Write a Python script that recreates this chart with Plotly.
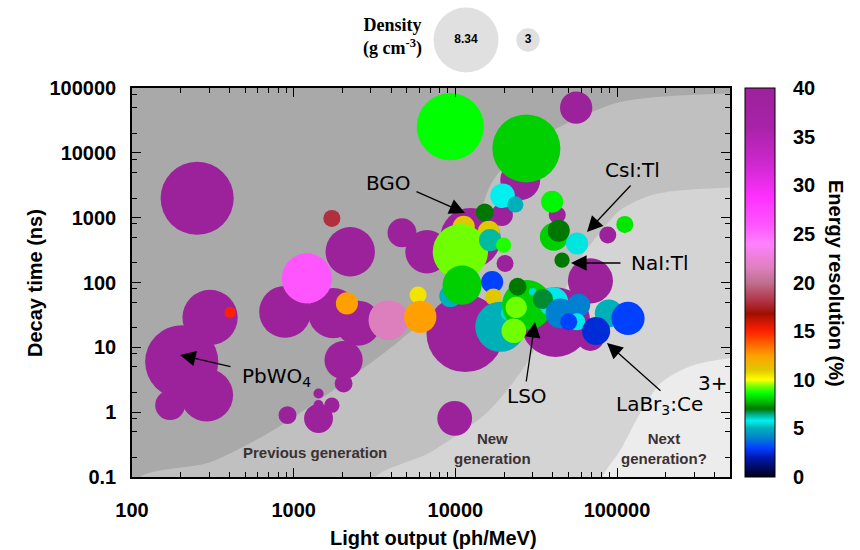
import plotly.graph_objects as go

# ---------------- data ----------------
light_output = [253, 1723, 2239, 4677, 6680, 885, 1757, 2506, 2036, 2036,
                1425, 1425, 1723, 1425, 916, 1207, 2135, 304, 404, 203,
                290, 172, 11500, 3860, 5880, 6070, 9910, 12400, 19400, 25200,
                20300, 11270, 16100, 10740, 16400, 19900, 15200, 9310, 11000, 16900,
                17200, 27500, 9310, 55900, 19600, 23500, 42700, 39700, 40700, 43600,
                56600, 87700, 111700, 45700, 68500, 41600, 68500, 19000, 21300, 27800,
                24300, 23800, 23000, 30100, 40400, 34800, 44700, 58000, 56600, 50300,
                89000, 117000, 74300]
decay_time = [1990, 975, 298, 585, 298, 35.3, 33.7, 23.6, 6.35, 2.77,
              1.94, 1.28, 1.28, 0.80, 0.90, 116, 47.6, 28.9, 34.6, 5.97,
              1.83, 1.28, 16.4, 26.3, 64, 29.6, 0.80, 484, 1100, 3800,
              197, 724, 606, 298, 451, 378, 1208, 61.7, 91, 102,
              60, 11700, 25300, 49700, 2180, 1600, 1100, 1760, 507, 630,
              400, 539, 788, 222, 106, 24.5, 14.5, 20.8, 33.7, 44.8,
              85.9, 41.3, 18.0, 71.8, 49.9, 55.4, 33.3, 44.8, 24.7, 24.7,
              33.3, 27.9, 17.8]
density = [8.6, 2.0, 5.8, 3.4, 5.1, 6.1, 5.9, 5.3, 4.5, 2.1,
           1.2, 1.2, 1.8, 3.4, 2.1, 5.9, 2.6, 6.5, 1.3, 8.6,
           6.2, 3.5, 9.1, 4.7, 2.0, 3.8, 4.1, 7.1, 2.6, 4.7,
           2.0, 2.6, 2.6, 6.5, 2.6, 1.8, 2.1, 2.6, 4.6, 2.6,
           2.0, 8.0, 7.9, 3.8, 2.9, 1.9, 2.0, 2.6, 3.3, 2.6,
           2.6, 2.0, 2.0, 1.8, 5.3, 8.2, 3.3, 5.9, 1.8, 5.9,
           2.1, 2.5, 2.9, 0.9, 3.5, 2.4, 3.5, 2.7, 2.0, 2.0,
           3.3, 3.9, 3.3]
energy_res = [40, 18, 40, 40, 40, 40, 40, 40, 40, 40,
              40, 40, 40, 40, 40, 26, 12.5, 40, 15, 40,
              40, 40, 40, 21.5, 10.5, 12.5, 40, 40, 40, 40,
              40, 11, 11, 9.3, 6.3, 8.8, 7, 5, 8, 3,
              11, 8, 8.6, 40, 5.8, 5, 40, 8.5, 8, 7,
              5.9, 40, 8.3, 7, 40, 40, 40, 5, 6, 8,
              7, 9.3, 9.3, 6, 5.7, 6.8, 4, 4, 5.7, 3,
              5, 3, 2.5]

legend_density = [8.34, 3]
legend_labels = ["8.34", "3"]

x_tickvals = [100, 1000, 10000, 100000]
x_ticktext = ["100", "1000", "10000", "100000"]
y_tickvals = [0.1, 1, 10, 100, 1000, 10000, 100000]
y_ticktext = ["0.1", "1", "10", "100", "1000", "10000", "100000"]
cbar_tickvals = [0, 5, 10, 15, 20, 25, 30, 35, 40]

# background "generation" zones (boundary curves, data units)
b1_x = [104, 304, 747, 2142, 4560, 8670, 12400, 16500, 25200, 40500, 105000, 582000]
b1_y = [0.086, 0.169, 0.527, 3.12, 12.9, 53.5, 316, 3190, 11050, 22500, 60900, 83700]
b2_x = [2980, 7000, 15800, 27100, 41600, 59400, 79000, 105000, 173000, 582000]
b2_y = [0.083, 0.241, 1.0, 5.31, 37.5, 238, 600, 1310, 2310, 2970]
b3_x = [79100, 105000, 140000, 186000, 285000, 582000]
b3_y = [0.083, 0.26, 1.0, 2.8, 5.13, 7.06]

# ---------------- style ----------------
SIZE_PER_DENSITY = 8.5
LEGEND_SIZE_PER_DENSITY = 7.8
W, H = 860, 550
ML, MR, MT, MB = 132, 130, 5, 73
PW, PH = W - ML - MR, H - MT - MB
PLOT_TOP = 88
CBAR_LEFT, CBAR_W = 745, 30
CMIN, CMAX = 0, 40


def px(xp):
    return (xp - ML) / PW


def py(yp):
    return (H - MB - yp) / PH


colorscale = [
    [0.0, "#000018"], [0.05, "#0018b0"], [0.075, "#0040ff"], [0.1, "#0080d0"],
    [0.125, "#00b0b8"], [0.145, "#00f0f0"], [0.16, "#00b090"], [0.175, "#007800"],
    [0.2, "#00d000"], [0.215, "#00ff00"], [0.235, "#80ff00"], [0.25, "#ffff00"],
    [0.275, "#e0c800"], [0.3125, "#ffa000"], [0.375, "#ff2000"], [0.42, "#a01000"],
    [0.45, "#b03040"], [0.5, "#c07090"], [0.54, "#e080c0"], [0.6, "#ff80ff"],
    [0.65, "#ff55ff"], [0.72, "#ff30ff"], [0.8, "#d028d0"], [0.9, "#a822a8"],
    [1.0, "#9c229c"],
]

fig = go.Figure()

# lightest background zone: the whole plot area
fig.add_trace(go.Scatter(x=[1, 1e7, 1e7, 1, 1], y=[1e-3, 1e-3, 1e7, 1e7, 1e-3],
                         mode="lines", fill="toself", fillcolor="#ececec",
                         line=dict(width=0), hoverinfo="skip", showlegend=False))


def zone(bx, by, color):
    xs = [1, bx[0]] + bx + [1e7, 1e7, 1]
    ys = [1e-3, 1e-3] + by + [by[-1], 1e7, 1e7]
    fig.add_trace(go.Scatter(x=xs, y=ys, mode="lines", fill="toself",
                             fillcolor=color, line=dict(width=0, shape="spline", smoothing=0.8),
                             hoverinfo="skip", showlegend=False))


zone(b3_x, b3_y, "#d4d4d4")
zone(b2_x, b2_y, "#c0c0c0")
zone(b1_x, b1_y, "#a9a9a9")

fig.add_trace(go.Scatter(
    x=light_output, y=decay_time, mode="markers", showlegend=False,
    marker=dict(size=[d * SIZE_PER_DENSITY for d in density], sizemode="diameter",
                color=energy_res, colorscale=colorscale, cmin=CMIN, cmax=CMAX,
                opacity=1, line=dict(width=0),
                showscale=True,
                colorbar=dict(x=px(CBAR_LEFT), xanchor="left", xpad=0, y=0, yanchor="bottom",
                              len=(H - MB - PLOT_TOP) / PH, lenmode="fraction", ypad=0,
                              thickness=CBAR_W, outlinewidth=1, outlinecolor="black",
                              tickvals=cbar_tickvals, ticks="outside", ticklen=14,
                              tickcolor="rgba(0,0,0,0)",
                              tickfont=dict(family="Liberation Sans", size=20, weight="bold",
                                            color="black"))),
))

# density legend
fig.add_trace(go.Scatter(
    x=[px(466), px(528)], y=[0.5, 0.5], xaxis="x2", yaxis="y2",
    mode="markers+text", text=legend_labels, textposition="middle center",
    textfont=dict(family="Liberation Sans", size=12, weight="bold", color="black"),
    marker=dict(size=[d * LEGEND_SIZE_PER_DENSITY for d in legend_density],
                sizemode="diameter", color="#d3d3d3", line=dict(width=0)),
    showlegend=False, hoverinfo="skip", cliponaxis=False))

minor_x = [m * 10 ** e for e in range(2, 6) for m in range(2, 10)]
minor_y = [m * 10 ** e for e in range(-1, 5) for m in (2, 5, 8)]

axis_common = dict(type="log", showgrid=False, zeroline=False, showline=True,
                   linecolor="black", linewidth=1.5, mirror="ticks", ticks="inside",
                   ticklen=9, tickwidth=1.2, tickcolor="black",
                   tickfont=dict(family="Liberation Sans", size=20, weight="bold",
                                 color="black"))

fig.update_layout(
    width=W, height=H, margin=dict(l=ML, r=MR, t=MT, b=MB, autoexpand=False),
    paper_bgcolor="white", plot_bgcolor="rgba(0,0,0,0)",
    xaxis=dict(range=[2, 5.69897], tickvals=x_tickvals, ticktext=x_ticktext,
               ticklabelstandoff=14,
               minor=dict(tickvals=minor_x, ticks="inside", ticklen=5, tickwidth=1,
                          tickcolor="black"),
               **axis_common),
    yaxis=dict(range=[-1, 5], tickvals=y_tickvals, ticktext=y_ticktext,
               domain=[0, (H - MB - PLOT_TOP) / PH], ticklabelstandoff=10,
               minor=dict(tickvals=minor_y, ticks="inside", ticklen=5, tickwidth=1,
                          tickcolor="black"),
               **axis_common),
    xaxis2=dict(domain=[0, 1], range=[0, 1], anchor="y2", visible=False),
    yaxis2=dict(domain=[py(75), 1], range=[0, 1], anchor="x2", visible=False),
)

# small inside tick marks on both edges of the colour bar
shapes = []
for v in cbar_tickvals[1:-1]:
    yy = py(H - MB - (v - CMIN) / (CMAX - CMIN) * (H - MB - PLOT_TOP))
    for x0, x1 in ((CBAR_LEFT, CBAR_LEFT + 5), (CBAR_LEFT + CBAR_W - 5, CBAR_LEFT + CBAR_W)):
        shapes.append(dict(type="line", xref="paper", yref="paper", x0=px(x0), x1=px(x1),
                           y0=yy, y1=yy, line=dict(color="#303030", width=1)))

ann = []


def text_ann(t, xx, yy, font, angle=0):
    ann.append(dict(text=t, x=px(xx), y=py(yy), xref="paper", yref="paper",
                    xanchor="center", yanchor="middle", showarrow=False,
                    textangle=angle, font=font))


bold20 = dict(family="Liberation Sans", size=20, weight="bold", color="black")
text_ann("Light output (ph/MeV)", 433, 538, bold20)
text_ann("Decay time (ns)", 35, 283, bold20, -90)
text_ann("Energy resolution (%)", 836, 283, bold20, 90)
text_ann("Density<br>(g cm<sup>-3</sup>)", 392, 37,
         dict(family="Liberation Serif", size=18, weight="bold", color="black"))

gen_font = dict(family="Liberation Sans", size=15, weight="bold", color="#3a3232")
text_ann("Previous generation", 315, 452, gen_font)
text_ann("New<br>generation", 492, 448, gen_font)
text_ann("Next<br>generation?", 664, 448, gen_font)

lab_font = dict(family="DejaVu Sans", size=20, color="black")
text_ann("BGO", 388, 183, lab_font)
text_ann("CsI:Tl", 632, 170, lab_font)
text_ann("NaI:Tl", 660, 263, lab_font)
text_ann("PbWO<sub>4</sub>", 276, 377, lab_font)
text_ann("LSO", 527, 396, lab_font)
text_ann("LaBr<sub>3</sub>:Ce", 659, 405, lab_font)
text_ann("3+", 712, 383, lab_font)

arrows = [  # tail -> tip (pixels)
    ((415, 191), (465, 213)),
    ((632, 184), (587, 232)),
    ((622, 263), (571, 263)),
    ((232, 367), (180, 355)),
    ((526, 383), (535, 322)),
    ((662, 392), (607, 343)),
]
for (tx, ty), (hx, hy) in arrows:
    ann.append(dict(text="", x=px(hx), y=py(hy), xref="paper", yref="paper",
                    ax=tx - hx, ay=ty - hy, axref="pixel", ayref="pixel",
                    showarrow=True, arrowhead=2, arrowsize=2.4, arrowwidth=1.3,
                    arrowcolor="black", standoff=0, startstandoff=0))

fig.update_layout(annotations=ann, shapes=shapes)
fig.write_html("out.html", config={"displayModeBar": False},
               post_script="document.body.style.margin='0px';")
